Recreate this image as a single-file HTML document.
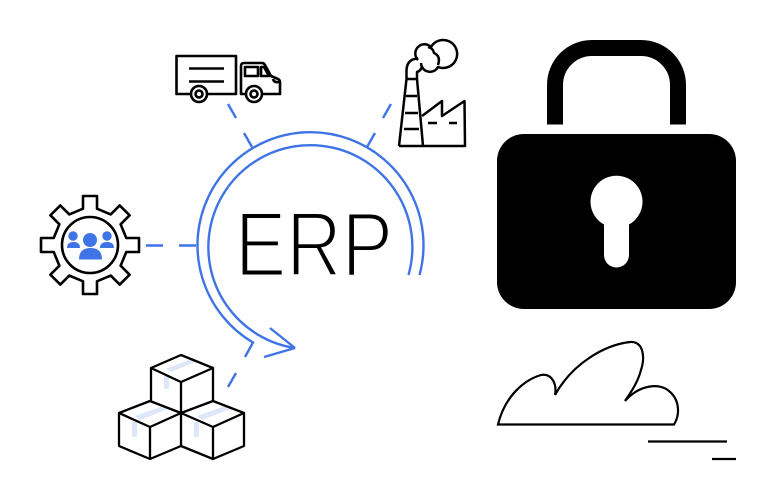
<!DOCTYPE html>
<html><head><meta charset="utf-8"><style>html,body{margin:0;padding:0;background:#fff}svg{display:block}</style></head><body>
<svg width="773" height="500" viewBox="0 0 773 500" xmlns="http://www.w3.org/2000/svg">
<rect width="773" height="500" fill="#fff"/>
<!-- tape -->
<g fill="#dde7f9">
<path d="M166 369L193 358L198 361L171 372Z"/><rect x="164" y="376" width="5" height="13"/>
<path d="M135 416L163 406L168 409L140 420Z"/><rect x="132" y="422" width="5" height="15"/>
<path d="M197 416L225 406L230 409L202 420Z"/><rect x="194" y="422" width="5" height="15"/>
</g>
<!-- blue arcs -->
<g fill="none" stroke="#3f74e6" stroke-width="2.400">
<path d="M419.500 275A113 113 0 1 0 253 342.500L245 357"/>
<path d="M408.500 275A102 102 0 1 0 295 348L264 357M270 328L295 348"/>
<path d="M228 104L236 118M244 133L252 147M391 104L383 118M375 133L367 147M146 245.500H163M179 245.500H196M236 373L228 387"/>
</g>
<!-- ERP -->
<text x="235" y="276" font-family="'Liberation Sans',sans-serif" font-size="92" textLength="158" lengthAdjust="spacingAndGlyphs" fill="#000" stroke="#fff" stroke-width="3">ERP</text>
<!-- truck -->
<g fill="none" stroke="#000" stroke-width="2.600" stroke-linejoin="round">
<path d="M190 94H176.500V56H236V94H208"/>
<path d="M189 68.500H224M189 81.500H224" />
<circle cx="199" cy="94" r="8"/><circle cx="199" cy="94" r="3.500"/>
<circle cx="254" cy="94" r="8"/><circle cx="254" cy="94" r="3.500"/>
<path d="M245 94H241V66Q241 63 244 63H262Q264 63 265 65L271 76L278 79Q280 80 280 82V94H263"/>
<rect x="245" y="67" width="13" height="9"/>
<path d="M261 67V76H269L264 67Z"/>
<path d="M273 79Q274 83 279 82"/>
</g>
<!-- factory -->
<g fill="none" stroke="#000" stroke-width="2.500" stroke-linejoin="round">
<path d="M399 146H465L464.500 101L442 116V101L422 116"/>
<path d="M399 146L406.500 79M423 146L417 79M406.500 79H417"/>
<path d="M406 96H417M405 113H418M404 129H419"/>
<path d="M428 123H437M449 123H457"/>
<path d="M406.500 79V70Q407 59 418 58.500M417 79L417 72Q421 71 422 66"/>
<path d="M418 60A8.500 8.500 0 0 1 431 47A14 14 0 1 1 438 67A9 9 0 0 1 422 67Q421 65 421 63"/>
<path d="M428 47Q433 48 434 53Q441 56 438 65"/>
</g>
<!-- gear -->
<g fill="none" stroke="#000" stroke-width="2.600" stroke-linejoin="round">
<path d="M83 208.700V196H97V208.700L110.700 214.400L119.700 205.400L129.600 215.300L120.600 224.300L126.300 238H139V252H126.300L120.600 265.700L129.600 274.700L119.700 284.600L110.700 275.600L97 281.300V294H83V281.300L69.300 275.600L60.300 284.600L50.400 274.700L59.400 265.700L53.700 252H41V238H53.700L59.400 224.300L50.400 215.300L60.300 205.400L69.300 214.400Z"/>
<circle cx="90" cy="245" r="28"/>
</g>
<g fill="#3f74e6">
<circle cx="90" cy="240" r="7"/><path d="M79 259.500Q79 248 90.500 248Q102 248 102 259.500Z"/>
<circle cx="73" cy="236" r="4.700"/><path d="M67 248Q67 242 73.500 242Q80 242 80 248Z"/>
<circle cx="107" cy="236" r="4.700"/><path d="M100 248Q100 242 107 242Q114 242 114 248Z"/>
</g>
<!-- cubes -->
<g fill="none" stroke="#000" stroke-width="2.300" stroke-linejoin="round">
<path d="M181 355L213 368L181 382L151 368Z"/>
<path d="M151 368V401M213 368V401M181 382V446"/>
<path d="M150 401L119 413L150 427L181 413Z"/>
<path d="M119 413V446L150 459L181 446L213 459L244 446V413L213 401L181 413L213 427L244 413M150 427V459M213 427V459"/>
</g>
<!-- lock -->
<rect x="497" y="134" width="239" height="175" rx="27" fill="#000"/>
<path d="M555 124.500V85A37 37 0 0 1 592 48H641A37 37 0 0 1 678 85V124.500" fill="none" stroke="#000" stroke-width="16"/>
<path d="M604 224.500A26 26 0 1 1 629 224.500V255A12.500 12.500 0 0 1 604 255Z" fill="#fff"/>
<!-- cloud -->
<g fill="none" stroke="#000" stroke-width="2.200">
<path d="M498 424.500C505 396 524 380 541 375C552 373 557 384 555 395C572 364 604 345 630 342C644 341 645 358 641 370C638 382 631 392 625 401C640 384 660 383 669 391C680 400 680 415 674 424.500Z"/>
<path d="M648 441.500H727M712 459H736"/>
</g>
</svg>
</body></html>
